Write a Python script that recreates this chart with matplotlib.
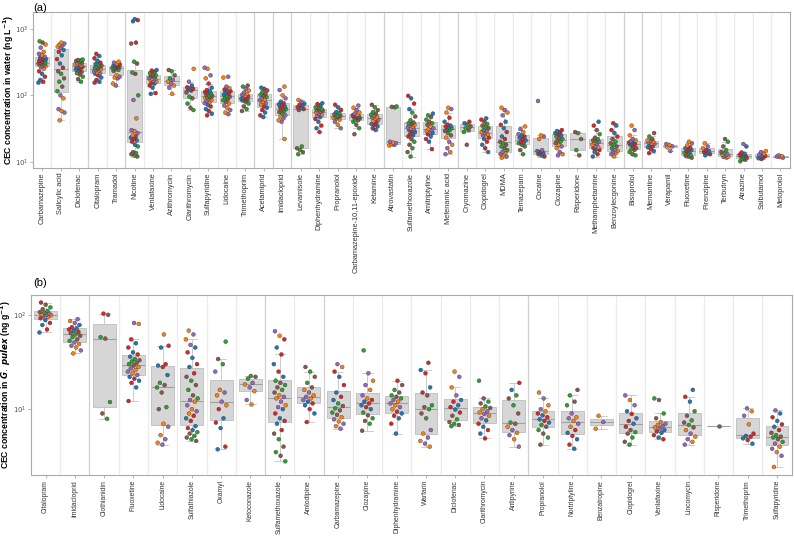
import numpy as np
import matplotlib
matplotlib.use("Agg")
import matplotlib.pyplot as plt

plt.rcParams['font.family'] = ['Liberation Sans', 'DejaVu Sans']

# (a) CEC concentration in water (ng/L)
water_names = ["Carbamazepine", "Salicylic acid", "Diclofenac", "Citalopram", "Tramadol", "Nicotine",
               "Venlafaxine", "Azithromycin", "Clarithromycin", "Sulfapyridine", "Lidocaine",
               "Trimethoprim", "Acetamiprid", "Imidacloprid", "Levamisole", "Diphenhydramine",
               "Propranolol", "Carbamazepine-10,11-epoxide", "Ketamine", "Atrovastatin",
               "Sulfamethoxazole", "Amitriptyline", "Mefenamic acid", "Cryomazine", "Clopidogrel",
               "MDMA", "Temazepam", "Cocaine", "Clozapine", "Risperidone", "Methamphetamine",
               "Benzoylecgonine", "Bisoprolol", "Memantine", "Verapamil", "Fluoxetine",
               "Pirenzipine", "Terbutryn", "Atrazine", "Salbutamol", "Metoprolol"]
water_values = [
    [155, 160, 170, 190, 210, 230, 250, 265, 275, 280, 285, 290, 295, 300, 305, 308, 312, 320, 330,
     340, 345, 350, 360, 368, 380, 400, 420, 450, 520, 580, 620, 650],
    [42, 55, 58, 62, 90, 100, 115, 135, 160, 180, 210, 230, 260, 300, 350, 400, 450, 480, 520, 540,
     560, 580, 600, 620],
    [160, 175, 190, 205, 215, 225, 236, 245, 255, 262, 268, 272, 278, 283, 288, 293, 298, 305, 312,
     320, 328, 335, 340, 345],
    [155, 160, 170, 185, 200, 210, 215, 220, 228, 235, 240, 245, 250, 258, 265, 272, 280, 288, 295,
     310, 330, 360, 390, 420],
    [140, 150, 180, 185, 190, 200, 232, 240, 248, 255, 260, 262, 266, 270, 275, 278, 285, 290, 300,
     310, 320],
    [12, 12.5, 13, 13.5, 14, 17, 18, 20, 21, 22, 23, 24, 25, 27, 29, 30, 45, 85, 100, 210, 220, 300,
     320, 600, 620, 1300, 1350, 1400],
    [105, 108, 130, 140, 150, 155, 160, 165, 170, 175, 178, 182, 188, 195, 200, 205, 215, 225, 235, 240],
    [105, 130, 140, 150, 160, 170, 180, 200, 230, 240],
    [60, 65, 75, 90, 95, 110, 118, 122, 125, 128, 132, 140, 160, 250],
    [50, 53, 58, 62, 68, 72, 76, 79, 82, 85, 88, 91, 93, 95, 98, 100, 103, 106, 110, 112, 115, 120,
     130, 150, 180, 200, 250, 260],
    [52, 55, 60, 65, 70, 75, 80, 84, 88, 92, 95, 98, 102, 106, 110, 115, 118, 122, 128, 135, 185, 190],
    [58, 62, 68, 75, 80, 83, 85, 87, 89, 91, 93, 96, 99, 102, 105, 110, 118, 125, 135, 140],
    [47, 50, 55, 60, 65, 68, 72, 76, 80, 84, 86, 90, 94, 98, 102, 106, 112, 118, 125, 130],
    [22, 40, 42, 45, 48, 50, 53, 56, 58, 60, 62, 64, 66, 68, 70, 73, 76, 80, 90, 100, 120, 135],
    [13, 14, 15, 16, 17, 60, 62, 64, 66, 70, 72, 75, 80, 85],
    [28, 32, 35, 40, 44, 47, 49, 51, 53, 55, 57, 58, 59, 60, 61, 62, 64, 66, 70, 74, 76],
    [32, 36, 40, 43, 45, 46, 47, 48, 49, 50, 52, 54, 56, 60, 66, 72],
    [26, 32, 36, 40, 42, 43, 45, 46, 47, 48, 49, 50, 51, 53, 55, 60, 65, 70],
    [30, 32, 34, 36, 37, 39, 41, 43, 45, 46, 47, 49, 51, 53, 56, 60, 66, 72],
    [17.5, 18, 18.5, 19, 19.5, 20, 66, 67, 68],
    [12, 14, 16, 18, 20, 22, 24, 25, 26, 28, 29, 30, 31, 32, 33, 34, 35, 36, 37, 38, 39, 42, 48, 55,
     62, 75, 90, 98],
    [15.5, 20, 22, 24, 26, 27, 28, 29, 30, 31, 32, 34, 36, 38, 40, 43, 47, 50, 53],
    [13, 14, 16, 18, 20, 23, 25, 27, 29, 30, 31, 32, 33, 34, 35, 36, 40, 46, 55, 62, 65],
    [18, 28, 30, 32, 34, 36, 38, 40],
    [14, 16, 18, 20, 22, 23, 24, 25, 26, 27, 28, 29, 30, 32, 34, 35, 37, 40, 43, 45],
    [11.5, 12, 12.5, 13, 13.5, 14, 15, 16, 17, 18, 19, 20, 22, 24, 28, 32, 36, 40, 50, 55, 60, 65],
    [13, 15, 17, 18, 19, 19.5, 20, 21, 22, 23, 24, 25, 26, 28, 31, 34],
    [12, 12.5, 13, 13.5, 14, 14.5, 15, 22, 24, 25, 82],
    [12.5, 13, 14, 16, 17, 18, 19, 20, 21, 22, 23, 24, 25, 26, 27, 28, 29, 30],
    [12.5, 15, 22, 27, 28],
    [12, 13, 14, 15, 15.5, 16, 16.5, 17, 18, 19, 19.5, 20, 20.5, 21, 22, 23, 26, 30, 35, 40],
    [12, 13, 13.5, 14, 14.5, 15, 16, 17, 18, 19, 20, 22, 24, 27, 30, 35, 38],
    [12.5, 13, 14, 15, 15.5, 16, 17, 18, 18.5, 19, 19.5, 20, 20.5, 21, 22, 25, 30, 35],
    [13.5, 14.5, 15.5, 16.5, 17, 18, 18.5, 19, 19.5, 20, 20.5, 21, 22, 24, 27],
    [14.5, 16.5, 17, 18, 18.5],
    [11.5, 12, 12.3, 12.6, 13, 13.5, 14, 14.5, 15, 15.5, 16, 16.5, 17.5, 19, 20],
    [12.5, 13, 13.5, 14, 14.5, 15, 16, 17, 19],
    [11.5, 11.8, 12, 12.5, 12.8, 13, 13.5, 14, 15, 17, 20, 22],
    [10.2, 10.8, 11, 11.3, 11.6, 12, 12.2, 12.5, 12.8, 13.2, 13.8, 17, 18.5],
    [11, 11.3, 11.6, 11.9, 12.2, 12.5, 12.8, 13.2, 14, 14.5],
    [11.5, 11.8, 12, 12.2, 12.5],
]

# (b) CEC concentration in G. pulex (ng/g)
gp_names = ["Citalopram", "Imidacloprid", "Clothianidin", "Fluoxetine", "Lidocaine", "Sulfathiazole",
            "Oxamyl", "Ketoconazole", "Sulfamethoxazole", "Amlodipine", "Carbamazepine", "Clozapine",
            "Diphenhydramine", "Warfarin", "Diclofenac", "Clarithromycin", "Antipyrine", "Propranolol",
            "Nortriptyline", "Benzatropine", "Clopidogrel", "Venlafaxine", "Lincomycin", "Risperidone",
            "Trimethoprim", "Sulfapyridine"]
gp_values = [
    [65, 70, 78, 82, 88, 92, 95, 97, 99, 100, 101, 103, 105, 107, 110, 115, 120, 128, 135],
    [39, 42, 45, 47, 49, 51, 53, 55, 58, 60, 62, 64, 66, 68, 70, 72, 74, 78, 82, 86, 90],
    [7.9, 9, 11.9, 56, 58, 100, 103],
    [12.2, 17, 19, 20, 21, 22, 23, 24, 25, 26, 27, 28, 29, 30, 31, 32, 33, 34, 36, 38, 40, 45, 50,
     55, 80, 82],
    [4.2, 4.4, 4.8, 5.3, 6.5, 7, 10, 10.5, 15, 17, 18, 19, 23, 28, 29, 30, 45, 47, 62],
    [4.6, 4.8, 5, 5.2, 5.5, 5.7, 6, 6.3, 6.6, 7.5, 8, 8.5, 9, 9.5, 10, 11, 12, 12.5, 13, 14, 16, 18,
     20, 22, 24, 28, 30, 35, 40, 45, 48, 55, 62, 68],
    [3.75, 4, 6.3, 7.2, 8, 10, 11, 12, 14, 15, 16, 25, 30, 34, 52],
    [11.2, 12.5, 15.5, 17, 18.3, 19, 21, 22, 22.5],
    [2.8, 3.2, 3.5, 4, 4.8, 5.5, 6, 7, 7.5, 8, 9, 10, 10.5, 11, 12, 13, 13.5, 14, 15, 16, 17, 18, 19,
     20, 22, 25, 30, 38, 45, 55, 60, 67],
    [7.3, 9, 10, 11, 11.5, 12, 12.5, 13, 13.5, 14, 15, 16, 17, 19, 22, 25, 28],
    [6.2, 6.6, 7, 7.4, 7.8, 8.2, 8.7, 9.2, 9.7, 10.2, 10.8, 11.5, 12.5, 13.5, 15, 18, 22, 25, 28, 30],
    [5.9, 7, 7.5, 8, 8.6, 9.2, 10, 10.5, 11, 11.5, 12, 12.5, 13, 14, 16, 18, 20, 24, 42],
    [5.5, 7, 8, 8.5, 9, 9.4, 10, 10.5, 11, 11.5, 12, 12.5, 13, 13.5, 14, 15, 16, 18, 20],
    [4, 4.3, 4.6, 5, 5.5, 6, 8, 9, 10, 10.5, 11, 14, 15, 17, 24, 26, 31],
    [6.6, 6.8, 7, 7.3, 7.8, 8.5, 9.2, 9.9, 10.5, 11, 12, 12.5, 14, 17, 22, 25],
    [4.9, 5.5, 6, 6.5, 7, 7.6, 8, 8.5, 8.9, 9.2, 9.5, 10, 10.3, 10.7, 11.5, 12, 13, 20],
    [4, 4.8, 5.3, 5.6, 6, 6.5, 7, 7.2, 9, 11, 13, 14, 16, 19],
    [4.2, 5, 5.5, 6, 6.5, 6.8, 7.2, 7.5, 7.8, 8.2, 8.6, 9, 9.5, 10, 11, 13, 15],
    [3.8, 4.2, 4.8, 5.2, 5.6, 6, 6.5, 7, 7.5, 8, 8.2, 9, 11, 12, 14, 16],
    [6.2, 7.3, 8.5],
    [4.2, 4.5, 5, 5.5, 5.7, 6, 6.5, 7, 7.5, 8, 8.9, 9.5, 11, 12.5, 14],
    [4.8, 5, 5.3, 5.6, 5.8, 6, 6.2, 6.4, 6.6, 6.8, 7, 7.3, 8, 9, 12.5, 13],
    [4.2, 4.5, 4.8, 5.1, 5.5, 6, 6.4, 6.8, 7.2, 7.6, 8.5, 9.5, 12, 13.5, 16],
    [6.6],
    [4.3, 4.7, 4.9, 5.1, 5.2, 5.5, 6.9, 8.5, 9.5, 10.2],
    [2.44, 3.2, 3.5, 3.8, 4, 4.3, 4.5, 4.8, 5, 5.1, 5.3, 5.6, 6, 6.5, 6.9, 7.5, 8.2, 9, 9.7],
]

colors = ['#1f77b4', '#ff7f0e', '#2ca02c', '#d62728', '#9467bd', '#8c564b']


def panel(ax, names, values, ylim, dark_sep, label_size):
    n = len(names)
    pos = np.arange(n)
    for b in range(n - 1):
        ax.axvline(b + 0.5, color='#d0d0d0' if b in dark_sep else '#ebebeb', lw=0.9, zorder=0)
    ax.boxplot(values, positions=pos, widths=0.78, patch_artist=True, showfliers=False, whis=1.5,
               capwidths=0.35,
               boxprops=dict(facecolor='#d6d6d6', edgecolor='#bdbdbd', linewidth=0.6),
               medianprops=dict(color='#a0a0a0', linewidth=0.8),
               whiskerprops=dict(color='#c4c4c4', linewidth=0.6),
               capprops=dict(color='#c4c4c4', linewidth=0.6), zorder=1)
    for i, vals in enumerate(values):
        k = np.arange(len(vals))
        jit = ((k * 0.6180339 + i * 0.37) % 1 - 0.5) * 0.42
        cols = [colors[(3 * j + j // 6 + i) % 6] for j in k]
        ax.scatter(i + jit, vals, s=8, c=cols, edgecolors='#333333', linewidths=0.25, zorder=3)
    ax.set_yscale('log')
    ax.set_ylim(*ylim)
    ax.set_xlim(-0.5, n - 0.5)
    ax.set_xticks(pos)
    ax.set_xticklabels(names, rotation=90, fontsize=label_size, color='#333333')
    ax.minorticks_off()
    ax.tick_params(axis='x', length=2, width=0.5, color='#999999', pad=1.5)
    ax.tick_params(axis='y', length=2, width=0.5, color='#999999', labelsize=5, labelcolor='#555555', pad=1)
    for s in ax.spines.values():
        s.set_color('#aaaaaa')
        s.set_linewidth(0.8)


fig = plt.figure(figsize=(7.94, 5.38), dpi=100)
ax1 = fig.add_axes([0.0416, 0.688, 0.953, 0.29])
ax2 = fig.add_axes([0.039, 0.117, 0.958, 0.335])

panel(ax1, water_names, water_values, (8.1, 1800), {2, 4, 11, 12, 13, 18, 22, 31, 32}, 5.3)
panel(ax2, gp_names, gp_values, (2.0, 163), {1, 7, 9, 16}, 4.9)

ax1.set_yticks([10, 100, 1000])
ax1.set_yticklabels(['$10^{1}$', '$10^{2}$', '$10^{3}$'])
ax2.set_yticks([10, 100])
ax2.set_yticklabels(['$10^{1}$', '$10^{2}$'])

ax1.set_ylabel('CEC concentration in water (ng L$^{\\mathbf{-1}}$)', fontsize=6.2, fontweight='bold')
ax2.set_ylabel('CEC concentration in $\\boldsymbol{G.\\ pulex}$ (ng g$^{\\mathbf{-1}}$)', fontsize=6.2,
               fontweight='bold')
ax1.yaxis.set_label_coords(-0.0225, 0.5)
ax2.yaxis.set_label_coords(-0.0235, 0.5)

fig.text(0.0416, 0.995, '(a)', fontsize=8, va='top', ha='left')
fig.text(0.042, 0.483, '(b)', fontsize=8, va='top', ha='left')

fig.savefig('out.png', dpi=100)
